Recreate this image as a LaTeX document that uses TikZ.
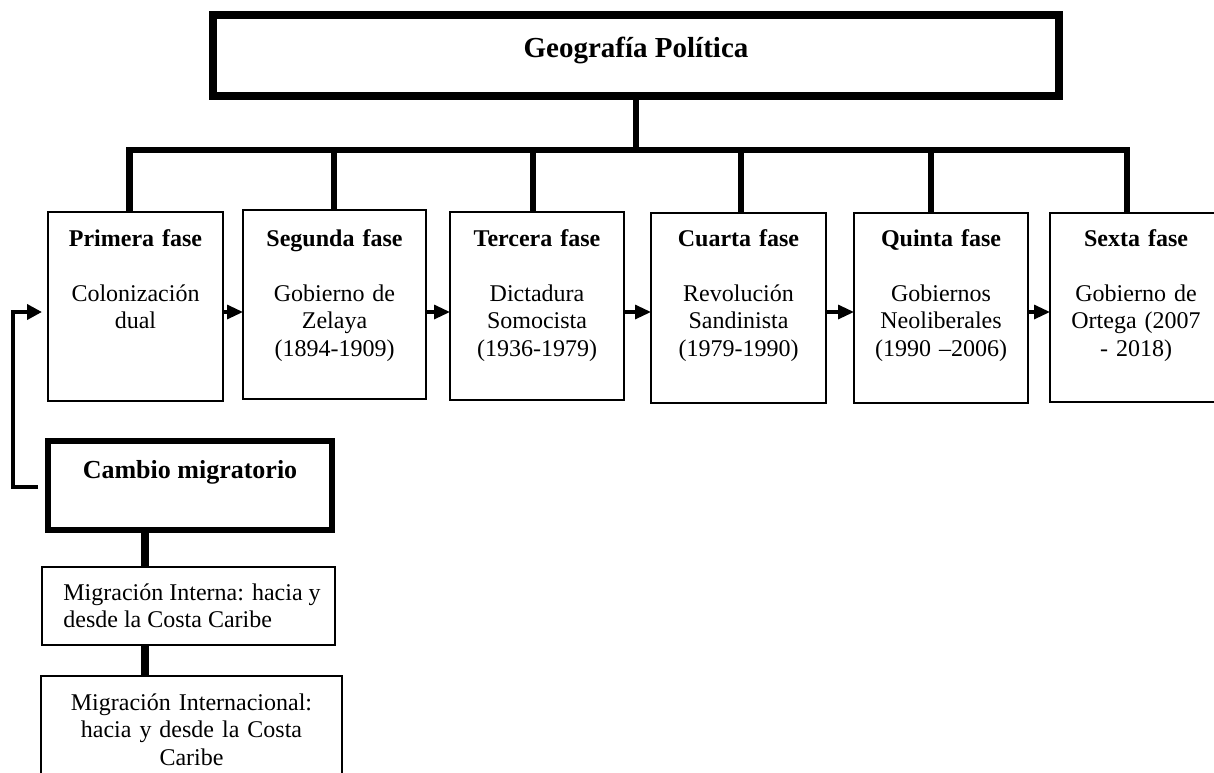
\documentclass[tikz,border=0pt]{standalone}
\usepackage{fontspec}
\setmainfont{Liberation Serif}
\usetikzlibrary{arrows.meta}
\begin{document}
\begin{tikzpicture}[x=0.5pt,y=-0.5pt,
  heavybox/.style={draw, line width=4pt, inner sep=0pt, outer sep=0pt},
  midbox/.style={draw, line width=3.25pt, inner sep=0pt, outer sep=0pt},
  thinbox/.style={draw, line width=1.1pt, inner sep=0pt, outer sep=0pt},
  barline/.style={line width=3.4pt},
  stemline/.style={line width=4pt},
  flow/.style={line width=1.6pt, -{Triangle[length=8pt,width=7pt]}},
  fbline/.style={line width=2pt, -{Triangle[length=7.5pt,width=7.5pt]}},
  plbl/.style={anchor=base, inner sep=0pt, text width=84pt, align=center,
    font=\fontsize{12}{13.75}\selectfont},
  blbl/.style={anchor=base west, inner sep=0pt,
    font=\fontsize{12}{13.75}\selectfont}
]
\useasboundingbox (0,0) rectangle (1214,772);
\clip (0,0) rectangle (1214,772);

% title
\node[heavybox, minimum width=423pt, minimum height=40.5pt] (geo) at (636,55.5) {};
\node[anchor=base, inner sep=0pt, font=\fontsize{14.5}{16.5}\selectfont\bfseries] (geot) at (636,57) {Geografía Política};

% phase boxes
\node[thinbox, minimum width=87.5pt, minimum height=94.5pt] (b1) at (135.5,306.5) {};
\node[thinbox, minimum width=91.5pt, minimum height=94.5pt] (b2) at (334.5,304.5) {};
\node[thinbox, minimum width=87pt, minimum height=94pt] (b3) at (537,306) {};
\node[thinbox, minimum width=87.5pt, minimum height=95pt] (b4) at (738.5,308) {};
\node[thinbox, minimum width=87pt, minimum height=95pt] (b5) at (941,308) {};
\node[thinbox, minimum width=86pt, minimum height=94.5pt] (b6) at (1136,307.5) {};

\node[plbl] (t1) at (135.5,246) {\textbf{Primera fase}\\[13.75pt]Colonización\\dual};
\node[plbl] (t2) at (334.5,246) {\textbf{Segunda fase}\\[13.75pt]Gobierno de\\Zelaya\\(1894-1909)};
\node[plbl] (t3) at (537,246) {\textbf{Tercera fase}\\[13.75pt]Dictadura\\Somocista\\(1936-1979)};
\node[plbl] (t4) at (738.5,246) {\textbf{Cuarta fase}\\[13.75pt]Revolución\\Sandinista\\(1979-1990)};
\node[plbl] (t5) at (941,246) {\textbf{Quinta fase}\\[13.75pt]Gobiernos\\Neoliberales\\(1990 –2006)};
\node[plbl] (t6) at (1136,246) {\textbf{Sexta fase}\\[13.75pt]Gobierno de\\Ortega (2007\\- 2018)};

% tree connectors
\coordinate (hub) at (636,150);
\coordinate (d1) at (129.5,150);
\coordinate (d2) at (334,150);
\coordinate (d3) at (533,150);
\coordinate (d4) at (741,150);
\coordinate (d5) at (931,150);
\coordinate (d6) at (1127,150);
\draw[barline] (geo.south) -- (hub);
\draw[barline] (b1.north -| d1) -- (d1) -- (d6) -- (b6.north -| d6);
\draw[barline] (d2) -- (b2.north -| d2);
\draw[barline] (d3) -- (b3.north -| d3);
\draw[barline] (d4) -- (b4.north -| d4);
\draw[barline] (d5) -- (b5.north -| d5);

% arrows between phases
\coordinate (ay) at (0,312);
\draw[flow] (b1.east |- ay) -- (b2.west |- ay);
\draw[flow] (b2.east |- ay) -- (b3.west |- ay);
\draw[flow] (b3.east |- ay) -- (b4.west |- ay);
\draw[flow] (b4.east |- ay) -- (b5.west |- ay);
\draw[flow] (b5.east |- ay) -- (b6.west |- ay);

% migration
\node[midbox, minimum width=142pt, minimum height=44.5pt] (cm) at (190,485.5) {};
\node[anchor=base, inner sep=0pt, font=\fontsize{13}{15}\selectfont\bfseries] (cmt) at (190,478) {Cambio migratorio};

\node[thinbox, minimum width=146.5pt, minimum height=39pt] (mi) at (188.5,606) {};
\node[blbl] (mit) at (63,600) {\begin{tabular}[t]{@{}l@{}}Migración Interna: hacia y\\desde la Costa Caribe\end{tabular}};

\node[thinbox, minimum width=150.5pt, minimum height=62pt] (mn) at (191.5,738) {};
\node[plbl, text width=145pt] (mnt) at (191.5,710) {Migración Internacional:\\hacia y desde la Costa\\Caribe};

\coordinate (sx) at (144.5,0);
\draw[stemline] (cm.south -| sx) -- (mi.north -| sx);
\draw[stemline] (mi.south -| sx) -- (mn.north -| sx);

% feedback connector
\coordinate (fbs) at ([xshift=-5pt,yshift=-0.75pt]cm.west);
\coordinate (fbc) at (13,487);
\draw[fbline] (fbs) -- (fbc) -- (fbc |- ay) -- ([xshift=-3pt]b1.west |- ay);
\end{tikzpicture}
\end{document}
